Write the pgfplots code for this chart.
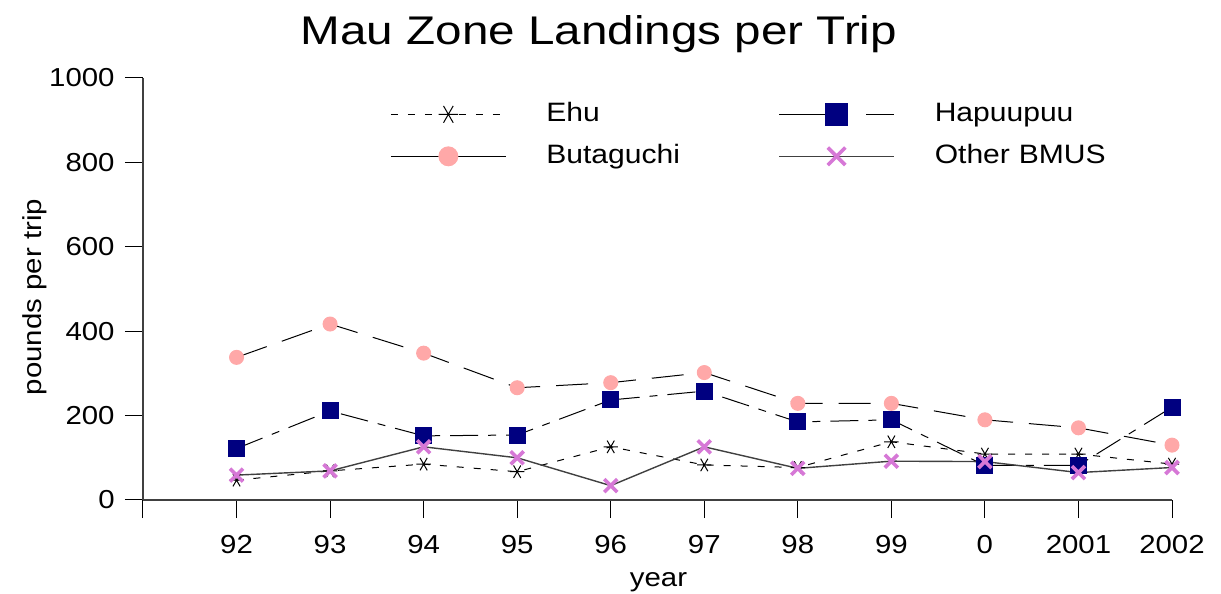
\documentclass[border=0pt]{standalone}
\usepackage{fontspec}
\setmainfont{Liberation Sans}[FakeStretch=1.13]
\newfontfamily\titlefont{Liberation Sans}[FakeStretch=1.19]
\usepackage{pgfplots}
\pgfplotsset{compat=1.18}
\usepackage{pgfplotstable}
\definecolor{butcol}{RGB}{255,168,168}
\definecolor{hapcol}{RGB}{0,0,128}
\definecolor{othcol}{RGB}{214,120,214}
\pgfplotstableread{
x Ehu Hap But Oth
1 47 122 338 59
2 69 211 417 69
3 85 152 348 126
4 67 154 266 100
5 126 237 278 34
6 83 258 302 126
7 77 185 229 75
8 138 190 229 92
9 109 82 190 91
10 109 82 171 65
11 85 220 130 77
}\datatab
\begin{document}
\begin{tikzpicture}
\useasboundingbox (-71.5pt,-47pt) rectangle (539pt,250pt);
\begin{axis}[
  scale only axis, width=514.5pt, height=211pt,
  at={(0,0)}, anchor=south west,
  xmin=0, xmax=11, ymin=0, ymax=1000,
  axis lines*=left,
  axis line style={black!75, line width=0.6pt},
  tick style={black, line width=0.5pt},
  tick align=outside, major tick length=9pt,
  xtick={0,...,11},
  xticklabels={,92,93,94,95,96,97,98,99,0,2001,2002},
  ytick={0,200,...,1000},
  /pgf/number format/assume math mode=true,
  /pgf/number format/1000 sep={},
  tick label style={font=\fontsize{13}{15}\selectfont},
  xticklabel style={anchor=north, inner sep=0pt, yshift=-8.5pt},
  yticklabel style={anchor=east, inner sep=0pt, xshift=-5pt},
  xlabel={year},
  ylabel={pounds per trip},
  label style={font=\fontsize{13}{15}\selectfont},
  xlabel style={at={(axis description cs:0.501,-0.195)}, anchor=center},
  ylabel style={at={(axis description cs:-0.105,0.481)}, anchor=center, rotate=0},
  title={Mau Zone Landings per Trip},
  every axis title shift=0pt,
  title style={at={(axis description cs:0.153,1.080)}, anchor=base west, inner sep=0pt, font=\titlefont\fontsize{20}{24}\selectfont},
  legend columns=2,
  legend style={at={(axis description cs:0.240,0.944)}, anchor=north west,
    draw=none, fill=none, inner sep=0pt, row sep=8.7pt,
    font=\fontsize{13.3}{15}\selectfont,
    nodes={inner sep=0pt, text width=116pt, align=left, text height=9.5pt, text depth=2.8pt, anchor=center},
    /tikz/every odd column/.style={column sep=20pt}},
  legend image code/.code={\draw[mark repeat=2,mark phase=2,#1,every mark/.append style={scale=1.35}] plot coordinates {(0pt,0pt)(28.75pt,0pt)(57.5pt,0pt)};},
]
\addplot[black, line width=0.5pt, dash pattern=on 3.5pt off 5pt, mark=asterisk, mark size=3.6pt, mark options={solid, rotate=90, line width=0.5pt}] table[x=x,y=Ehu] {\datatab};
\addlegendentry{Ehu}
\addplot[black, line width=0.5pt, dash pattern=on 14pt off 5pt on 4pt off 5pt, mark=square*, mark size=4pt, mark options={solid, draw=hapcol, fill=hapcol}, legend image post style={dash pattern=on 34pt off 9.5pt on 20pt off 0pt}] table[x=x,y=Hap] {\datatab};
\addlegendentry{Hapuupuu}
\addplot[black, line width=0.5pt, dash pattern=on 16pt off 8pt, mark=*, mark size=3.5pt, mark options={solid, draw=butcol, fill=butcol}, legend image post style={solid}] table[x=x,y=But] {\datatab};
\addlegendentry{Butaguchi}
\addplot[black!75, line width=0.7pt, mark=x, mark size=4.6pt, mark options={solid, draw=othcol, line width=1.8pt}] table[x=x,y=Oth] {\datatab};
\addlegendentry{Other BMUS}
\end{axis}
\end{tikzpicture}
\end{document}
